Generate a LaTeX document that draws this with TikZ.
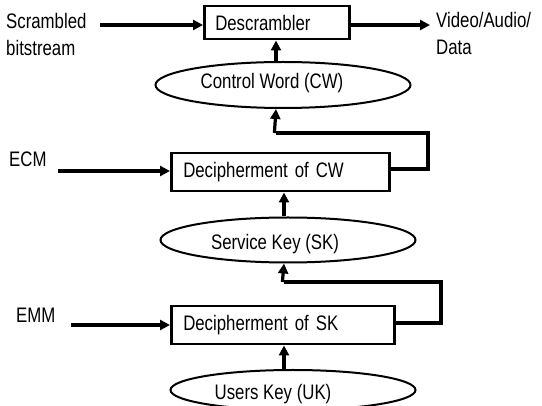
\documentclass[tikz,border=0pt]{standalone}
\usepackage{fontspec}
\setmainfont{Liberation Sans}[FakeStretch=0.8]
\usetikzlibrary{arrows.meta,shapes.geometric}

\tikzset{
  every node/.style={font=\fontsize{21}{27}\selectfont},
  box/.style={draw, line width=2.5pt, rectangle, align=left, inner ysep=0pt},
  keyshape/.style={draw, line width=2pt, ellipse, inner sep=0pt},
  lbl/.style={anchor=base west, inner sep=0pt},
  flow/.style={line width=3.2pt, -{Triangle[length=10pt,width=10pt]}},
  wire/.style={line width=3.2pt}
}

\begin{document}
\begin{tikzpicture}[x=1pt,y=-1pt]
\useasboundingbox (0,0) rectangle (542,406);

% processing blocks
\node[box, anchor=north west, text width=123pt, inner xsep=11pt, minimum height=33pt]
  (desc) at (203,5) {Descrambler};
\node[box, anchor=north west, text width=194pt, inner xsep=12pt, minimum height=38pt]
  (dcw) at (170,152) {Decipherment of CW};
\node[box, anchor=north west, text width=199pt, inner xsep=12pt, minimum height=38pt]
  (dsk) at (170,305) {Decipherment of SK};

% keys
\node[keyshape, minimum width=255pt, minimum height=46pt,
  label={[name=cwtext, xshift=-11pt, yshift=2pt]center:Control Word (CW)}]
  (cw) at (283,85) {};
\node[keyshape, minimum width=255pt, minimum height=45pt,
  label={[name=sktext, xshift=-13pt, yshift=-4pt]center:Service Key (SK)}]
  (sk) at (288,240) {};
\node[keyshape, minimum width=245pt, minimum height=40pt,
  label={[name=uktext, xshift=-20pt, yshift=-4pt]center:Users Key (UK)}]
  (uk) at (293,390) {};

% external inputs and output
\node[lbl] (sb1) at (6,29) {Scrambled};
\node[lbl] (sb2) at (6,56) {bitstream};
\node[lbl] (va1) at (436,28) {Video/Audio/};
\node[lbl] (va2) at (436,55) {Data};
\node[lbl] (ecm) at (9,167) {ECM};
\node[lbl] (emm) at (16,323) {EMM};

% helper points
\coordinate (sbin) at (100,25);
\coordinate (vout) at (430,25);
\coordinate (ecmin) at (58,171);
\coordinate (emmin) at (71,325);
\coordinate (cwcol) at (276,0);
\coordinate (skcol) at (284,0);
\coordinate (l1a) at (428,169);
\coordinate (l1b) at (428,133);
\coordinate (l2a) at (441,323);
\coordinate (l2b) at (441,282);

% signal flow
\draw[flow] (sbin) -- (sbin -| desc.west);
\draw[flow] (desc.east |- vout) -- (vout);
\draw[flow] (cwcol |- cw.north) -- (cwcol |- desc.south);
\draw[flow] (ecmin) -- (ecmin -| dcw.west);
\draw[flow] (emmin) -- (emmin -| dsk.west);
\draw[flow] (skcol |- sk.north) -- (skcol |- dcw.south);
\draw[flow] (skcol |- uk.north) -- (skcol |- dsk.south);

% feedback from decipherment blocks to the keys above
\draw[wire] (dcw.east |- l1a) -- (l1a) -- (l1b) -- (l1b -| cwcol);
\draw[flow] ([xshift=-1.6pt]l1b -| cwcol) -- (cwcol |- cw.south);
\draw[wire] (dsk.east |- l2a) -- (l2a) -- (l2b) -- (l2b -| skcol);
\draw[flow] ([xshift=-1.6pt]l2b -| skcol) -- (skcol |- sk.south);
\end{tikzpicture}
\end{document}
